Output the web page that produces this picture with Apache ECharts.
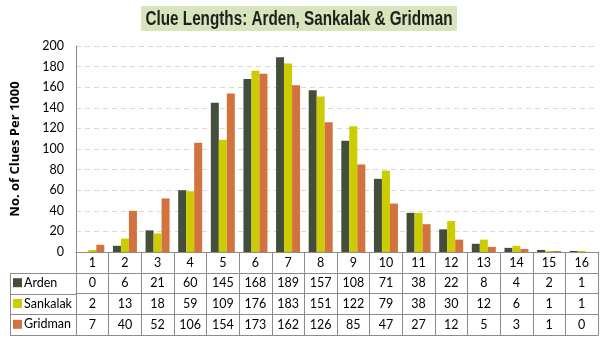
<!DOCTYPE html>
<html><head><meta charset="utf-8">
<script src="https://cdn.jsdelivr.net/npm/echarts@6/dist/echarts.min.js"></script>
<style>html,body{margin:0;padding:0;background:#fff}#c{width:605px;height:340px}</style>
</head><body><div id="c"></div>
<script>
const categories = ['1','2','3','4','5','6','7','8','9','10','11','12','13','14','15','16'];
const arden    = [0,6,21,60,145,168,189,157,108,71,38,22,8,4,2,1];
const sankalak = [2,13,18,59,109,176,183,151,122,79,38,30,12,6,1,1];
const gridman  = [7,40,52,106,154,173,162,126,85,47,27,12,5,3,1,0];
const seriesNames = ['Arden','Sankalak','Gridman'];
const seriesData = [arden, sankalak, gridman];
const colors = ['#434F3A','#CCCC00','#D2733F'];
const yTicks = {min:0, max:200, interval:20};
const titleText = 'Clue Lengths: Arden, Sankalak & Gridman';

const W = 605, H = 340;
const gridLeft = 76, gridRight = 7, gridTop = 46, gridBottom = 88;
const rowH = 20.8;
const tableLeft = 10;
const lineColor = '#8C8C8C';
const font = 'Lato, "Open Sans", sans-serif';
const axisY0 = H - gridBottom;

// title: narrow bold font imitation via horizontal scaling
const titleFont = 'bold 20px "Liberation Sans"';
const titleTargetW = 307;
const mc = document.createElement('canvas').getContext('2d');
mc.font = titleFont;
const titleW = mc.measureText(titleText).width;
const titleScale = titleTargetW / titleW;
const boxX = 141, boxY = 6, boxW = 316, boxH = 25;

const xAxes = [];
const rowsData = [categories].concat(seriesData.map(a => a.map(String)));
rowsData.forEach((d, i) => {
  xAxes.push({
    type:'category', data:d, position:'bottom', offset: i*rowH, gridIndex:0,
    axisLine:{show:true, lineStyle:{color:lineColor, width:1}},
    axisTick:{show:true, length:rowH, inside:false, lineStyle:{color:lineColor}},
    axisLabel:{show:true, margin: 4, color:'#000', fontFamily:font, fontSize:12.5, interval:0},
    splitLine:{show:false}
  });
});
xAxes.push({
  type:'category', data:categories, position:'bottom', offset: rowsData.length*rowH, gridIndex:0,
  axisLine:{show:true, lineStyle:{color:lineColor}}, axisTick:{show:false}, axisLabel:{show:false}
});

const graphics = [
  {type:'rect', shape:{x:boxX, y:boxY, width:boxW, height:boxH}, style:{fill:'#D8E4BC'}, z:10},
  {type:'text', x: boxX + boxW/2, y: boxY + boxH/2 + 1, scaleX: titleScale, z:11,
   style:{text:titleText, font:titleFont, fill:'#1F1F1F', textAlign:'center', textVerticalAlign:'middle'}}
];
for (let r = 1; r <= rowsData.length; r++) {
  const y = Math.round(axisY0 + r*rowH) + 0.5;
  graphics.push({type:'line', shape:{x1:tableLeft, y1:y, x2:gridLeft, y2:y}, style:{stroke:lineColor, lineWidth:1}});
}
graphics.push({type:'line', shape:{x1:tableLeft+0.5, y1:Math.round(axisY0+rowH)+0.5, x2:tableLeft+0.5, y2:Math.round(axisY0+rowsData.length*rowH)+0.5}, style:{stroke:lineColor, lineWidth:1}});

const legends = seriesNames.map((n, i) => ({
  data:[n], orient:'vertical', left: tableLeft+3, top: axisY0 + (i+1)*rowH + rowH/2 - 7,
  itemWidth:9, itemHeight:9, itemGap:0, padding:0, icon:'rect',
  textStyle:{fontFamily:font, fontSize:12.5, color:'#000', padding:[0,0,0,-3]}
}));

const option = {
  animation:false,
  backgroundColor:'#fff',
  legend: legends,
  grid:{left:gridLeft, right:gridRight, top:gridTop, bottom:gridBottom, containLabel:false},
  xAxis: xAxes,
  yAxis:{
    type:'value', min:yTicks.min, max:yTicks.max, interval:yTicks.interval,
    name:'No. of Clues Per 1000', nameLocation:'middle', nameGap:54, nameRotate:90,
    nameTextStyle:{fontFamily:'"Open Sans", sans-serif', fontWeight:'bold', fontSize:13, color:'#000'},
    axisLine:{show:true, lineStyle:{color:lineColor}},
    axisTick:{show:false},
    axisLabel:{color:'#000', fontFamily:font, fontSize:12.5, margin:12},
    splitLine:{show:true, lineStyle:{color:'#D9D9D9', type:[5,4], width:1}}
  },
  series: seriesNames.map((n, i) => ({
    name:n, type:'bar', data:seriesData[i], xAxisIndex:0,
    barWidth:8, barGap:'0%', itemStyle:{color:colors[i]}
  })),
  graphic: graphics
};
const chart = echarts.init(document.getElementById('c'), null, {renderer:'canvas'});
chart.setOption(option);
</script></body></html>
